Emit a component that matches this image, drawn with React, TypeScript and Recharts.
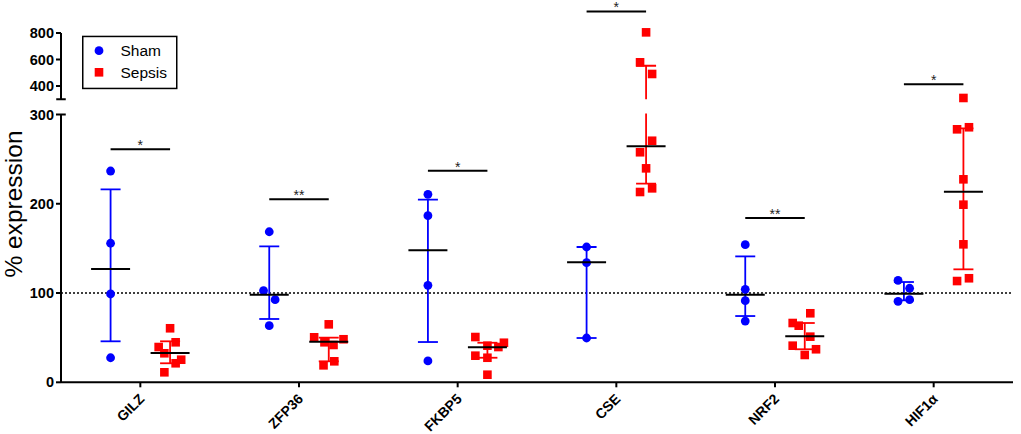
import React from 'react';
import { ScatterChart, Scatter, XAxis, YAxis, ErrorBar, ReferenceLine } from 'recharts';

// ---------- data ----------
const categories = ['GILZ', 'ZFP36', 'FKBP5', 'CSE', 'NRF2', 'HIF1α'];

const shamValues = [
  [236.6, 155.7, 98.9, 27.5],
  [168.6, 102.6, 92.5, 63.4],
  [210.5, 186.6, 108.6, 23.9],
  [151.5, 134, 49.6],
  [154.1, 104.1, 91.4, 68.6],
  [114.2, 105.3, 90.7, 92.5],
];
const shamJitter = [
  [0, 0, 0, 0],
  [0, -0.036, 0.037, 0],
  [0, 0, 0, 0],
  [0, 0, 0],
  [0, 0, 0, 0],
  [-0.037, 0.036, -0.037, 0.036],
];
const sepsisValues = [
  [60.5, 44.8, 39.5, 32.5, 25.3, 21.3, 11.2],
  [64.9, 50.4, 48.2, 44.8, 41.8, 23.5, 19.0],
  [50.7, 41.0, 39.5, 44.3, 29.8, 27.5, 8.5],
  [805, 579, 491, 270.5, 257.6, 239.6, 217.2, 213.1],
  [77.3, 66.4, 63.4, 51.1, 41.0, 37.0, 30.6],
  [310, 283.3, 285.6, 227.3, 198.9, 154.5, 113.4, 116.5],
];
const sepsisJitter = [
  [0, 0.035, -0.072, -0.036, 0.07, 0.035, -0.036],
  [0, -0.092, 0.093, -0.027, 0.03, 0.035, -0.033],
  [-0.076, 0, 0.069, 0.104, -0.076, 0, 0],
  [0, -0.038, 0.038, 0.038, -0.038, 0, 0.038, -0.038],
  [0.035, -0.076, -0.038, 0.035, -0.076, 0.071, 0],
  [0, -0.04, 0.035, 0, 0, 0, -0.04, 0.035],
];
const shamMedian = [127, 98.1, 147.8, 134.4, 98.1, 99.2];
const shamQ1 = [45.9, 70.9, 45.1, 49.6, 74.2, 91.8];
const shamQ3 = [216, 152.3, 204.5, 151.5, 141, 112.3];
const sepsisMedian = [32.8, 45.5, 39.2, 264.3, 51.5, 213.4];
const sepsisQ1 = [21.3, 23.5, 27.5, 222.4, 37, 126.5];
const sepsisQ3 = [45.9, 50, 44.3, 553, 66.4, 284.4];
const sigLevels = [261, 205, 237, 963, 184, 413];
const sigLabels = ['*', '**', '*', '*', '**', '*'];
const lowerTicks = [0, 100, 200, 300];
const upperTicks = [400, 600, 800];
const legendItems = [
  { name: 'Sham', shape: 'circle' },
  { name: 'Sepsis', shape: 'square' },
];

// ---------- styling / layout ----------
const W = 1021;
const H = 434;
const OFFSET = 0.1875;
const BLUE = '#0000ff';
const RED = '#ff0000';
const FONT = '"Liberation Sans", Arial, Helvetica, sans-serif';
const BREAK = 300;

type Pt = { x: number; y: number };
type Sum = { x: number; y: number; err: number[]; top: number };

function buildPoints(values: number[][], jitter: number[][], side: number, keep: (v: number) => boolean): Pt[] {
  const out: Pt[] = [];
  values.forEach((vals, i) =>
    vals.forEach((v, k) => {
      if (keep(v)) out.push({ x: i + side * OFFSET + jitter[i][k], y: v });
    })
  );
  return out;
}

function buildSummary(med: number[], q1: number[], q3: number[], side: number): Sum[] {
  return med.map((m, i) => ({ x: i + side * OFFSET, y: m, err: [m - q1[i], q3[i] - m], top: q3[i] }));
}

const shamSummary = buildSummary(shamMedian, shamQ1, shamQ3, -1);
const sepsisSummary = buildSummary(sepsisMedian, sepsisQ1, sepsisQ3, 1);

const CircleShape = (p: any) =>
  p.cx == null || isNaN(p.cx) ? <g /> : <circle cx={p.cx} cy={p.cy} r={4.4} fill={BLUE} />;
const SquareShape = (p: any) =>
  p.cx == null || isNaN(p.cx) ? <g /> : <rect x={p.cx - 4.3} y={p.cy - 4.3} width={8.6} height={8.6} fill={RED} />;
const MedianShape = (p: any) =>
  p.cx == null || isNaN(p.cy) ? <g /> : (
    <line x1={p.cx - 19.5} x2={p.cx + 19.5} y1={p.cy} y2={p.cy} stroke="#000" strokeWidth={2} />
  );

const XTick = (props: any) => {
  const { x, y, payload } = props;
  const ax = x + 5;
  const ay = y + 10.5;
  return (
    <text
      x={ax}
      y={ay}
      transform={`rotate(-45 ${ax} ${ay})`}
      textAnchor="end"
      fontSize={14}
      fontWeight={700}
      fontFamily={FONT}
      fill="#000"
    >
      {categories[payload.value]}
    </text>
  );
};

const yTickStyle = { fill: '#000', fontSize: 14.5, fontWeight: 700, fontFamily: FONT };
const axisStroke = { stroke: '#000', strokeWidth: 2 };

function summaryScatters(yAxisId: string, keep: (s: Sum) => boolean) {
  return [
    <Scatter
      key="shamSum"
      data={shamSummary.filter(keep)}
      yAxisId={yAxisId}
      shape={MedianShape}
      isAnimationActive={false}
    >
      <ErrorBar dataKey="err" direction="y" width={10} stroke={BLUE} strokeWidth={1.8} />
    </Scatter>,
    <Scatter
      key="sepsisSum"
      data={sepsisSummary.filter(keep)}
      yAxisId={yAxisId}
      shape={MedianShape}
      isAnimationActive={false}
    >
      <ErrorBar dataKey="err" direction="y" width={10} stroke={RED} strokeWidth={1.8} />
    </Scatter>,
  ];
}

function sigLines(yAxisId: string, keep: (v: number) => boolean) {
  return sigLevels.map((lvl, i) =>
    keep(lvl) ? (
      <ReferenceLine
        key={`sig${i}`}
        yAxisId={yAxisId}
        ifOverflow="visible"
        segment={[
          { x: i - OFFSET, y: lvl },
          { x: i + OFFSET, y: lvl },
        ]}
        stroke="#000"
        strokeWidth={2}
        label={{ value: sigLabels[i], position: 'top', offset: -1, fill: '#222', fontSize: 14, fontFamily: FONT }}
      />
    ) : null
  );
}

const LowerChart = () => (
  <ScatterChart width={W} height={H} margin={{ top: 114.4, right: 8, bottom: 11.7, left: 6 }} style={{ fontFamily: FONT }}>
    <XAxis
      dataKey="x"
      type="number"
      domain={[-0.5, 5.5]}
      ticks={[0, 1, 2, 3, 4, 5]}
      height={40}
      axisLine={axisStroke}
      tickLine={axisStroke}
      tickSize={5}
      tick={<XTick />}
      interval={0}
    />
    <YAxis
      yAxisId="main"
      dataKey="y"
      type="number"
      domain={[0, BREAK]}
      allowDataOverflow
      ticks={lowerTicks}
      width={55}
      axisLine={axisStroke}
      tickLine={axisStroke}
      tickSize={5}
      tick={yTickStyle}
      label={{
        content: () => (
          <text
            x={22}
            y={204}
            transform="rotate(-90 22 204)"
            textAnchor="middle"
            fontSize={24.5}
            fontFamily={FONT}
            fill="#000"
          >
            % expression
          </text>
        ),
      }}
    />
    <YAxis yAxisId="pts" dataKey="y" type="number" domain={[0, BREAK]} hide />
    <ReferenceLine yAxisId="main" y={100} stroke="#000" strokeWidth={1.5} strokeDasharray="2 2" />
    <ReferenceLine
      yAxisId="main"
      ifOverflow="visible"
      segment={[
        { x: -0.5, y: BREAK },
        { x: -0.47, y: BREAK },
      ]}
      stroke="#000"
      strokeWidth={2}
    />
    <Scatter
      data={buildPoints(shamValues, shamJitter, -1, (v) => v <= BREAK)}
      yAxisId="pts"
      shape={CircleShape}
      isAnimationActive={false}
    />
    <Scatter
      data={buildPoints(sepsisValues, sepsisJitter, 1, (v) => v <= BREAK)}
      yAxisId="pts"
      shape={SquareShape}
      isAnimationActive={false}
    />
    {summaryScatters('main', () => true)}
    {sigLines('main', (v) => v <= BREAK)}
  </ScatterChart>
);

const UpperChart = () => (
  <ScatterChart width={W} height={H} margin={{ top: 6.5, right: 8, bottom: 334.7, left: 6 }} style={{ fontFamily: FONT }}>
    <XAxis dataKey="x" type="number" domain={[-0.5, 5.5]} hide />
    <YAxis
      yAxisId="main"
      dataKey="y"
      type="number"
      domain={[BREAK, 1000]}
      allowDataOverflow
      ticks={upperTicks}
      width={55}
      axisLine={false}
      tickLine={axisStroke}
      tickSize={5}
      tick={yTickStyle}
    />
    <YAxis yAxisId="pts" dataKey="y" type="number" domain={[BREAK, 1000]} hide />
    <ReferenceLine
      yAxisId="main"
      ifOverflow="visible"
      segment={[
        { x: -0.5, y: BREAK },
        { x: -0.5, y: 800 },
      ]}
      stroke="#000"
      strokeWidth={2}
    />
    <ReferenceLine
      yAxisId="main"
      ifOverflow="visible"
      segment={[
        { x: -0.53, y: BREAK },
        { x: -0.47, y: BREAK },
      ]}
      stroke="#000"
      strokeWidth={2}
    />
    <Scatter
      data={buildPoints(shamValues, shamJitter, -1, (v) => v > BREAK)}
      yAxisId="pts"
      shape={CircleShape}
      isAnimationActive={false}
    />
    <Scatter
      data={buildPoints(sepsisValues, sepsisJitter, 1, (v) => v > BREAK)}
      yAxisId="pts"
      shape={SquareShape}
      isAnimationActive={false}
    />
    {summaryScatters('main', (s) => s.top > BREAK)}
    {sigLines('main', (v) => v > BREAK)}
  </ScatterChart>
);

const LegendBox = () => (
  <svg width={W} height={H} style={{ position: 'absolute', left: 0, top: 0, pointerEvents: 'none' }}>
    <rect x={82.75} y={36.45} width={94} height={52} fill="#fff" stroke="#000" strokeWidth={1.5} />
    {legendItems.map((it, i) => {
      const cy = 50.7 + i * 21.6;
      return (
        <g key={it.name}>
          {it.shape === 'circle' ? (
            <circle cx={99} cy={cy} r={4.4} fill={BLUE} />
          ) : (
            <rect x={99 - 4.3} y={cy - 4.3} width={8.6} height={8.6} fill={RED} />
          )}
          <text x={120.5} y={cy + 5.6} fontSize={15.5} fontFamily={FONT} fill="#000">
            {it.name}
          </text>
        </g>
      );
    })}
  </svg>
);

// the axis break: each segment shows only its own band of the y range
const upperClip =
  'polygon(0px 0px, 1021px 0px, 1021px 99.3px, 976px 99.3px, 976px 104px, 952px 104px, 952px 99.3px, 75px 99.3px, 75px 101px, 0px 101px)';
const lowerClip = 'polygon(0px 0px, 80px 0px, 80px 113.4px, 1021px 113.4px, 1021px 434px, 0px 434px)';

export default function App() {
  return (
    <div style={{ position: 'absolute', left: 0, top: 0, width: W, height: H, background: '#fff', overflow: 'hidden' }}>
      <div style={{ position: 'absolute', left: 0, top: 0, clipPath: lowerClip }}>
        <LowerChart />
      </div>
      <div style={{ position: 'absolute', left: 0, top: 0, clipPath: upperClip }}>
        <UpperChart />
      </div>
      <LegendBox />
    </div>
  );
}
